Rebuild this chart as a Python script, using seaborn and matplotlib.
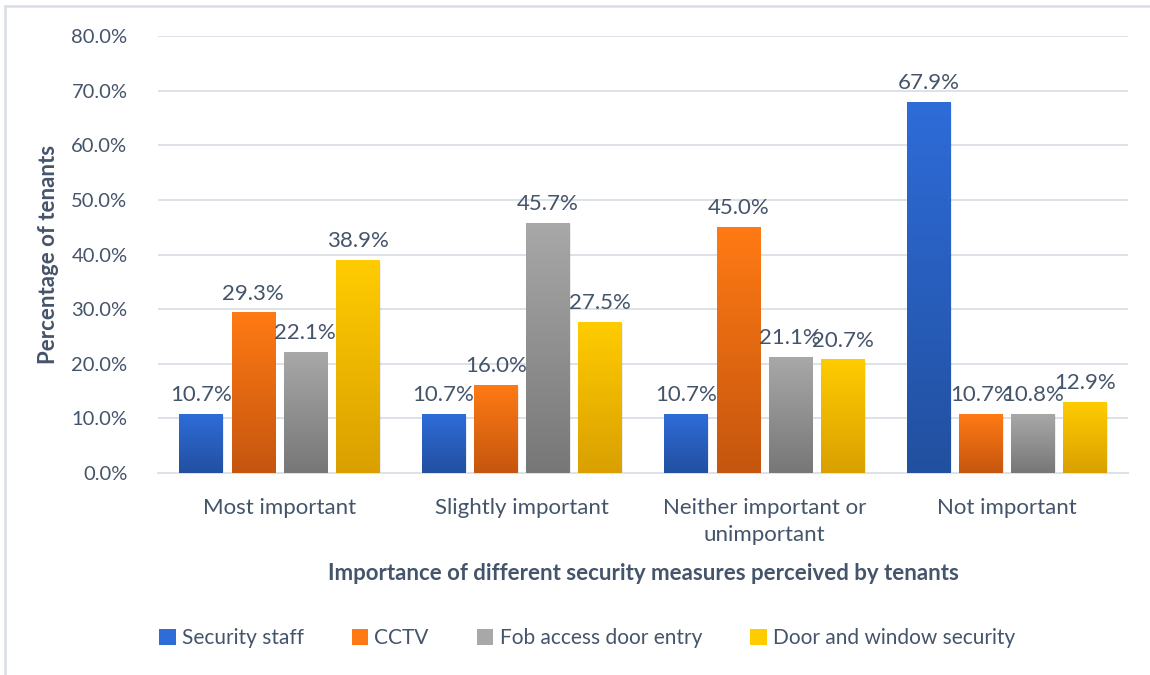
import numpy as np
import pandas as pd
import matplotlib
matplotlib.use("Agg")
import matplotlib.pyplot as plt
from matplotlib.colors import LinearSegmentedColormap
from matplotlib.patches import Patch
from matplotlib.lines import Line2D
from matplotlib.ticker import FuncFormatter, MultipleLocator
import seaborn as sns

# Survey results (% of tenants)
categories = ["Most important", "Slightly important",
              "Neither important or\nunimportant", "Not important"]
measures = ["Security staff", "CCTV", "Fob access door entry", "Door and window security"]
security_staff = [10.7, 10.7, 10.7, 67.9]
cctv = [29.3, 16.0, 45.0, 10.7]
fob_access = [22.1, 45.7, 21.1, 10.8]
door_window = [38.9, 27.5, 20.7, 12.9]

series = [security_staff, cctv, fob_access, door_window]
df = pd.DataFrame({
    "category": np.repeat([categories], len(measures), axis=0).ravel(),
    "measure": np.repeat(measures, len(categories)),
    "value": np.concatenate(series),
})

# top -> bottom gradient colours for each measure
grad = {
    "Security staff": ("#2E6CD8", "#2250A0"),
    "CCTV": ("#FF7A14", "#C5560F"),
    "Fob access door entry": ("#A8A8A8", "#777777"),
    "Door and window security": ("#FFCC00", "#D9A000"),
}
mid = {m: c[0] for m, c in grad.items()}

text_col = "#44546A"
grid_col = "#DDE1E8"

sns.set_theme(style="white")
plt.rcParams["font.family"] = ["Lato", "DejaVu Sans"]

fig = plt.figure(figsize=(11.5, 6.75), dpi=100)
ax = fig.add_axes([158 / 1150, 1 - 473 / 675, (1128 - 158) / 1150, (473 - 36) / 675])

sns.barplot(data=df, x="category", y="value", hue="measure", order=categories,
            hue_order=measures, palette=mid, width=0.86, gap=0.17,
            legend=False, ax=ax, zorder=3)

# replace flat fills with vertical gradients and print value labels
for measure, container in zip(measures, ax.containers):
    cmap = LinearSegmentedColormap.from_list(measure, [grad[measure][1], grad[measure][0]])
    for bar in container:
        x0, w, h = bar.get_x(), bar.get_width(), bar.get_height()
        bar.set_facecolor("none")
        bar.set_edgecolor("none")
        # soft shadow behind the bar
        ax.add_patch(plt.Rectangle((x0 + 0.006, -0.25), w, h + 0.05,
                                   facecolor="#000000", alpha=0.07,
                                   edgecolor="none", zorder=2))
        g = np.linspace(0, 1, 256).reshape(-1, 1)
        ax.imshow(g, extent=[x0, x0 + w, 0, h], origin="lower", aspect="auto",
                  cmap=cmap, zorder=3, interpolation="bicubic")
        ax.text(x0 + w / 2, h + 1.7, f"{h:.1f}%", ha="center", va="bottom",
                fontsize=16, color=text_col, zorder=4)

ax.set_ylim(0, 80)
ax.set_xlim(-0.5, len(categories) - 0.5)
ax.yaxis.set_major_locator(MultipleLocator(10))
ax.yaxis.set_major_formatter(FuncFormatter(lambda v, _: f"{v:.1f}%"))
ax.grid(axis="y", color=grid_col, linewidth=1.4, zorder=0)
ax.set_axisbelow(True)
for s in ["top", "right", "left"]:
    ax.spines[s].set_visible(False)
ax.spines["bottom"].set_color(grid_col)
ax.spines["bottom"].set_linewidth(1.4)
ax.tick_params(axis="y", length=0, pad=22, labelsize=14.5, labelcolor=text_col)
ax.tick_params(axis="x", length=0, pad=18, labelsize=16, labelcolor=text_col)
for lbl in ax.get_xticklabels():
    lbl.set_linespacing(1.45)

ax.set_ylabel("Percentage of tenants", fontsize=16, fontweight="bold",
              color=text_col, labelpad=9)
ax.set_xlabel("Importance of different security measures perceived by tenants",
              fontsize=16, fontweight="bold", color=text_col, labelpad=13)

handles = [Patch(facecolor=grad[m][0], edgecolor="none") for m in measures]
fig.legend(handles, measures, loc="center", bbox_to_anchor=(587 / 1150, 1 - 638 / 675),
           ncol=4, frameon=False, fontsize=15, labelcolor=text_col,
           handlelength=0.8, handleheight=0.8, handletextpad=0.3, columnspacing=2.3)

# chart frame (top and left edges)
fig.add_artist(Line2D([5 / 1150, 5 / 1150], [0, 1 - 6 / 675], transform=fig.transFigure,
                      color="#D9DDE5", linewidth=1.8))
fig.add_artist(Line2D([5 / 1150, 1], [1 - 6 / 675, 1 - 6 / 675], transform=fig.transFigure,
                      color="#D9DDE5", linewidth=1.8))

fig.savefig("out.png", dpi=100, facecolor="white")
